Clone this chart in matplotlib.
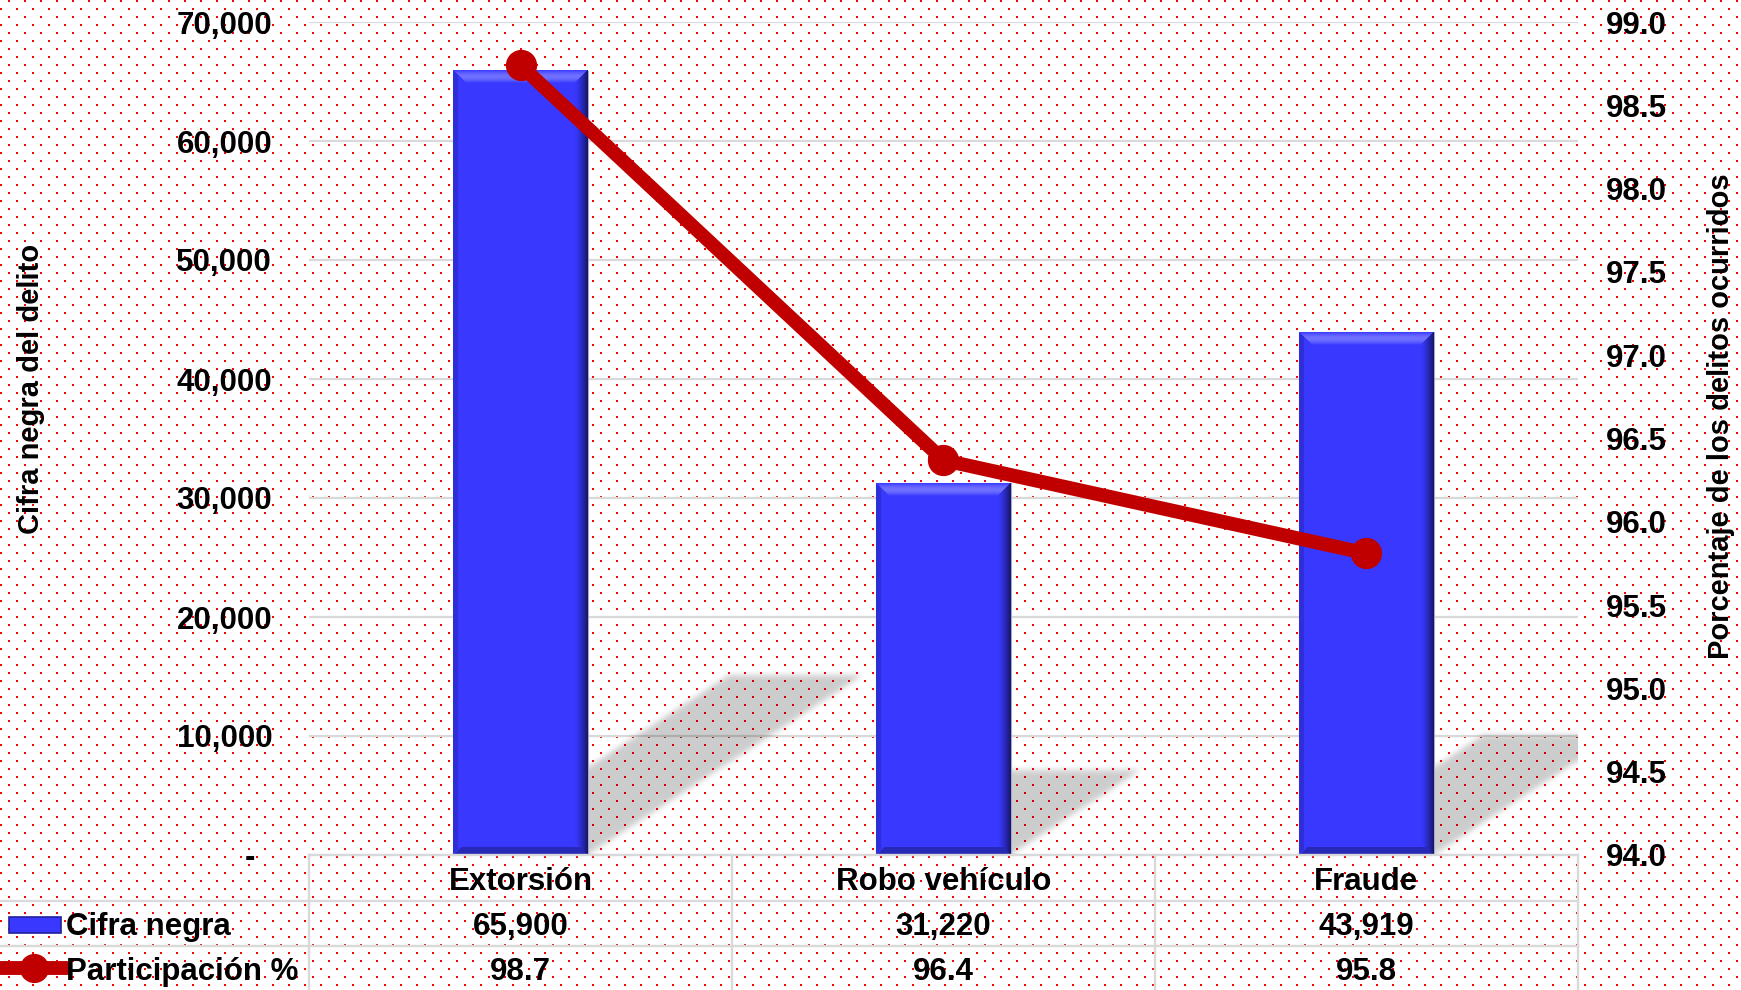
import numpy as np
import matplotlib
matplotlib.use("Agg")
import matplotlib.pyplot as plt
from matplotlib.patches import Rectangle
from matplotlib.ticker import FuncFormatter

categories = ["Extorsión", "Robo vehículo", "Fraude"]
cifra_negra = [65900, 31220, 43919]
participacion = [98.74, 96.37, 95.81]
left_ticks = list(range(0, 70001, 10000))
right_ticks = [94.0 + 0.5 * i for i in range(11)]
row_labels = ["Cifra negra", "Participación %"]

W, H = 1741, 990
L, R, T, B = 309, 1578, 22, 855  # plot area in pixels
BLUE = "#3838ff"
RED = "#c00000"
GRID = "#d9d9d9"
FS = 22.5

plt.rcParams["font.family"] = ["Liberation Sans", "DejaVu Sans"]
plt.rcParams["font.weight"] = "bold"


def bevel(wpx, hpx):
    yy, xx = np.mgrid[0:hpx, 0:wpx] + 0.5
    base = np.array([0.22, 0.22, 1.0])
    img = np.tile(base, (hpx, wpx, 1))
    dl, dr, dt, db = xx, wpx - xx, yy, hpx - yy
    b = 13.0
    m = (dr < b) & (dr <= dt) & (dr <= db)
    t = (1 - dr / b)[m][:, None]
    img[m] = base * (1 - 0.62 * t ** 1.4)
    m = (dt < b) & (dt < dr) & (dt < dl)
    t = np.sin(np.pi * dt / b)[m][:, None]
    img[m] = base + (1 - base) * 0.28 * t
    m = (db < 8) & (db < dl) & (db < dr)
    img[m] = base * 0.72
    m = (dl < 5) & (dl < dt) & (dl < db)
    img[m] = base * 0.85
    return np.clip(img, 0, 1)


def box_blur(a, k):
    pad = k // 2
    for axis in (0, 1):
        a = np.pad(a, [(pad, pad) if i == axis else (0, 0) for i in range(2)], mode="edge")
        c = np.cumsum(a, axis=axis)
        c = np.insert(c, 0, 0, axis=axis)
        if axis == 0:
            a = (c[k:] - c[:-k]) / k
        else:
            a = (c[:, k:] - c[:, :-k]) / k
    return a


fig = plt.figure(figsize=(W / 100, H / 100), dpi=100)
fig.patch.set_facecolor("white")

# dotted background
dots = np.ones((H, W, 3))
for k, r in enumerate(range(0, H, 8)):
    off = 0 if k % 2 else 8
    for c in range(off, W, 16):
        dots[r:r + 2, c:c + 2] = (1.0, 0.0, 0.0)
bg = fig.add_axes([0, 0, 1, 1])
bg.imshow(dots, aspect="auto", interpolation="nearest")
bg.axis("off")
bg.set_zorder(-1)

ax = fig.add_axes([L / W, 1 - B / H, (R - L) / W, (B - T) / H])
ax.set_facecolor("none")
x = np.arange(len(categories))
bars = ax.bar(x, cifra_negra, width=0.317, color=BLUE, edgecolor="#a8a8d8", lw=0.8, zorder=3)

px_x = (R - L) / 3
px_y = (B - T) / 70000

# skewed soft drop shadows, rasterised on the plot-area pixel grid
gw, gh = R - L, B - T
gy, gx = np.mgrid[0:gh, 0:gw] + 0.5
xd = gx / px_x - 0.5               # data x of each pixel
yd = (gh - gy) / px_y              # data y of each pixel
mask = np.zeros((gh, gw))
for rect in bars:
    x0, w, h = rect.get_x(), rect.get_width(), rect.get_height()
    dy = 0.23 * h
    dx = 1.53 * dy * px_y / px_x
    shift = x0 + dx * yd / dy
    inside = (yd >= 0) & (yd <= dy) & (xd >= shift) & (xd <= shift + w)
    mask[inside] = 1.0
mask = box_blur(box_blur(mask, 7), 7)
shadow = np.zeros((gh, gw, 4))
shadow[..., 3] = 0.2 * mask
ax.imshow(shadow, extent=(-0.5, 2.5, 0, 70000), aspect="auto", zorder=2, interpolation="bilinear")

for rect in bars:
    x0, w, h = rect.get_x(), rect.get_width(), rect.get_height()
    ax.imshow(bevel(int(round(w * px_x)), int(round(h * px_y))),
              extent=(x0, x0 + w, 0, h), aspect="auto", zorder=3.5, interpolation="bilinear")

ax.set_xlim(-0.5, 2.5)
ax.set_ylim(0, 70000)
ax.set_xticks([])
ax.set_yticks(left_ticks)
ax.yaxis.set_major_formatter(FuncFormatter(lambda v, p: "-  " if v == 0 else f"{v:,.0f}"))
ax.tick_params(axis="y", length=0, pad=26.5, labelsize=FS)
ax.set_axisbelow(True)
ax.yaxis.grid(True, color=GRID, lw=1.6)
for s in ax.spines.values():
    s.set_visible(False)

ax2 = ax.twinx()
ax2.plot(x, participacion, color=RED, lw=10, marker="o", ms=21.5, zorder=5)
ax2.set_ylim(94, 99)
ax2.set_yticks(right_ticks)
ax2.yaxis.set_major_formatter(FuncFormatter(lambda v, p: f"{v:.1f}"))
ax2.tick_params(axis="y", length=0, pad=20, labelsize=FS)
for s in ax2.spines.values():
    s.set_visible(False)

fig.text(31 / W, 1 - 389 / H, "Cifra negra del delito", rotation=90,
         ha="center", va="center", fontsize=21)
fig.text(1721 / W, 1 - 416 / H, "Porcentaje de los delitos ocurridos", rotation=90,
         ha="center", va="center", fontsize=21)

# data table under the chart
tab = fig.add_axes([0, 0, 1, (H - B) / H])
x_left = -0.5 - L / px_x
tab.set_xlim(x_left, 2.5 + (W - R) / px_x)
tab.set_ylim(H, B)
tab.axis("off")


def px(p):
    return x_left + p / px_x


rows = [B, 901, 946, H]
tab.plot([-0.5, 2.5], [B, B], color=GRID, lw=1.7, clip_on=False)
for yy in rows[1:3]:
    tab.plot([px(0), 2.5], [yy, yy], color=GRID, lw=1.7, clip_on=False)
for xb in np.arange(len(categories) + 1) - 0.5:
    tab.plot([xb, xb], [B, H], color=GRID, lw=1.7, clip_on=False)

mids = [(rows[i] + rows[i + 1]) / 2 for i in range(3)]
ty = [m + 4 for m in mids]
for i, cat in enumerate(categories):
    tab.text(i, ty[0], cat, ha="center", va="center", fontsize=FS)
    tab.text(i, ty[1], f"{cifra_negra[i]:,}", ha="center", va="center", fontsize=FS)
    tab.text(i, ty[2], f"{participacion[i]:.1f}", ha="center", va="center", fontsize=FS)

tab.add_patch(Rectangle((px(9), 917), px(61) - px(9), 16, fc=BLUE, ec="#20209a", lw=1.2))
tab.plot([px(0), px(64)], [mids[2], mids[2]], color=RED, lw=10, clip_on=False)
tab.plot([px(34)], [mids[2]], "o", color=RED, ms=20, clip_on=False)
for lab, yy in zip(row_labels, ty[1:]):
    tab.text(px(66), yy, lab, ha="left", va="center", fontsize=FS)

fig.savefig("out.png", dpi=100)
